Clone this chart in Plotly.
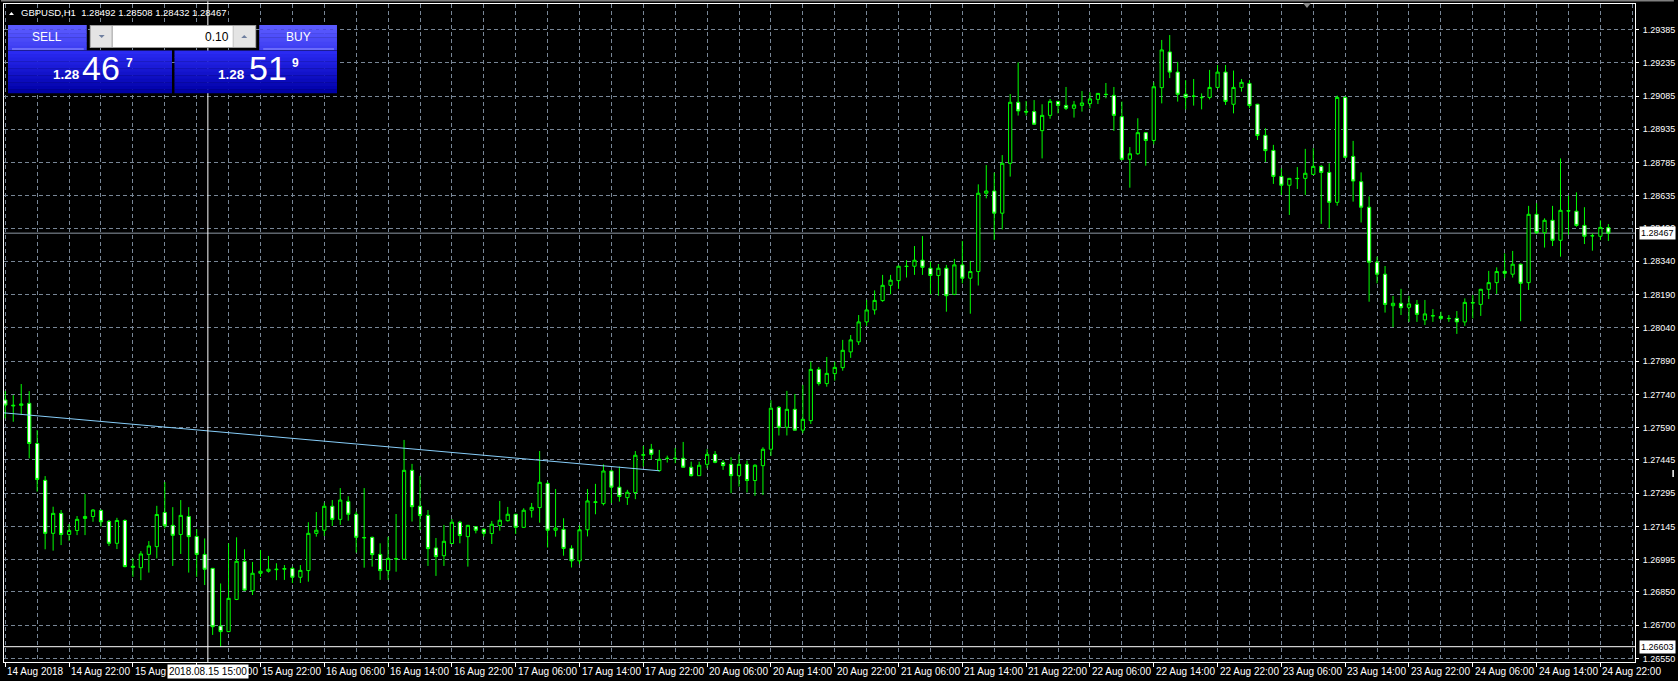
import plotly.graph_objects as go

# ---------------- data ----------------
symbol = "GBPUSD,H1"
bid_price = 1.28467
ask_price = 1.28519
lot_size = "0.10"

opens = [
    1.27715, 1.27688, 1.27691, 1.27700, 1.27519, 1.27353, 1.27114, 1.27204, 1.27109, 1.27127,
    1.27181, 1.27190, 1.27217, 1.27168, 1.27069, 1.27172, 1.26961, 1.26959, 1.27019, 1.27054,
    1.27208, 1.27150, 1.27109, 1.27190, 1.27100, 1.27019, 1.26956, 1.26696, 1.26671, 1.26816,
    1.26988, 1.26855, 1.26934, 1.26943, 1.26950, 1.26952, 1.26956, 1.26916, 1.26946, 1.27114,
    1.27128, 1.27236, 1.27177, 1.27258, 1.27200, 1.27095, 1.27096, 1.27019, 1.26946, 1.26998,
    1.26997, 1.27398, 1.27236, 1.27195, 1.27048, 1.27013, 1.27068, 1.27164, 1.27099, 1.27144,
    1.27132, 1.27113, 1.27149, 1.27171, 1.27200, 1.27141, 1.27218, 1.27230, 1.27339, 1.27128,
    1.27132, 1.27046, 1.26990, 1.27130, 1.27253, 1.27248, 1.27395, 1.27322, 1.27275, 1.27298,
    1.27466, 1.27493, 1.27397, 1.27451, 1.27451, 1.27452, 1.27412, 1.27374, 1.27425, 1.27470,
    1.27434, 1.27425, 1.27374, 1.27425, 1.27352, 1.27419, 1.27493, 1.27682, 1.27592, 1.27673,
    1.27579, 1.27622, 1.27853, 1.27789, 1.27834, 1.27861, 1.27932, 1.27977, 1.28067, 1.28121,
    1.28163, 1.28232, 1.28253, 1.28318, 1.28318, 1.28345, 1.28309, 1.28276, 1.28309, 1.28191,
    1.28324, 1.28264, 1.28294, 1.28647, 1.28657, 1.28557, 1.28782, 1.29057, 1.29016, 1.29015,
    1.28929, 1.28998, 1.29061, 1.29043, 1.29030, 1.29043, 1.29051, 1.29070, 1.29093, 1.29088,
    1.28992, 1.28800, 1.28825, 1.28920, 1.28885, 1.29123, 1.29284, 1.29193, 1.29093, 1.29085,
    1.29079, 1.29079, 1.29124, 1.29193, 1.29048, 1.29124, 1.29142, 1.29048, 1.28908, 1.28840,
    1.28723, 1.28683, 1.28714, 1.28714, 1.28732, 1.28768, 1.28741, 1.28606, 1.29079, 1.28813,
    1.28699, 1.28584, 1.28336, 1.28282, 1.28140, 1.28151, 1.28133, 1.28146, 1.28076, 1.28094,
    1.28092, 1.28083, 1.28083, 1.28067, 1.28152, 1.28146, 1.28214, 1.28244, 1.28295, 1.28282,
    1.28327, 1.28244, 1.28552, 1.28469, 1.28525, 1.28435, 1.28568, 1.28566, 1.28502, 1.28456,
    1.28453, 1.28492,
]
highs = [
    1.27755, 1.27737, 1.27787, 1.27755, 1.27579, 1.27372, 1.27234, 1.27219, 1.27156, 1.27192,
    1.27291, 1.27223, 1.27222, 1.27174, 1.27184, 1.27177, 1.27001, 1.27034, 1.27079, 1.27238,
    1.27345, 1.27232, 1.27264, 1.27232, 1.27133, 1.27091, 1.26958, 1.26888, 1.27069, 1.27096,
    1.27042, 1.26985, 1.27039, 1.27012, 1.26979, 1.26971, 1.26964, 1.26971, 1.27164, 1.27210,
    1.27252, 1.27264, 1.27318, 1.27281, 1.27212, 1.27318, 1.27099, 1.27069, 1.27098, 1.27201,
    1.27535, 1.27427, 1.27373, 1.27219, 1.27093, 1.27152, 1.27179, 1.27170, 1.27152, 1.27147,
    1.27137, 1.27170, 1.27260, 1.27233, 1.27201, 1.27227, 1.27251, 1.27485, 1.27347, 1.27314,
    1.27182, 1.27060, 1.27150, 1.27314, 1.27337, 1.27425, 1.27400, 1.27415, 1.27310, 1.27485,
    1.27508, 1.27517, 1.27490, 1.27464, 1.27499, 1.27526, 1.27437, 1.27437, 1.27493, 1.27485,
    1.27445, 1.27457, 1.27470, 1.27442, 1.27425, 1.27502, 1.27714, 1.27688, 1.27756, 1.27742,
    1.27783, 1.27888, 1.27864, 1.27909, 1.27888, 1.27986, 1.28008, 1.28098, 1.28166, 1.28209,
    1.28279, 1.28279, 1.28321, 1.28345, 1.28409, 1.28454, 1.28339, 1.28328, 1.28324, 1.28351,
    1.28432, 1.28342, 1.28687, 1.28774, 1.28740, 1.28819, 1.29094, 1.29237, 1.29063, 1.29067,
    1.29048, 1.29072, 1.29063, 1.29126, 1.29063, 1.29108, 1.29102, 1.29099, 1.29144, 1.29126,
    1.29060, 1.28855, 1.28985, 1.28922, 1.29147, 1.29338, 1.29360, 1.29239, 1.29157, 1.29162,
    1.29097, 1.29203, 1.29225, 1.29225, 1.29200, 1.29162, 1.29157, 1.29050, 1.28940, 1.28865,
    1.28759, 1.28716, 1.28765, 1.28847, 1.28850, 1.28774, 1.28782, 1.29087, 1.29082, 1.28883,
    1.28741, 1.28633, 1.28361, 1.28319, 1.28184, 1.28216, 1.28184, 1.28166, 1.28166, 1.28125,
    1.28113, 1.28098, 1.28116, 1.28173, 1.28188, 1.28216, 1.28297, 1.28313, 1.28376, 1.28387,
    1.28330, 1.28590, 1.28602, 1.28534, 1.28590, 1.28804, 1.28636, 1.28651, 1.28584, 1.28466,
    1.28525, 1.28508,
]
lows = [
    1.27632, 1.27617, 1.27647, 1.27452, 1.27302, 1.27042, 1.27036, 1.27061, 1.27081, 1.27106,
    1.27106, 1.27166, 1.27144, 1.27057, 1.27043, 1.26961, 1.26918, 1.26903, 1.26937, 1.27001,
    1.27136, 1.26967, 1.27021, 1.26937, 1.26918, 1.26881, 1.26656, 1.26603, 1.26669, 1.26813,
    1.26855, 1.26836, 1.26918, 1.26937, 1.26903, 1.26904, 1.26890, 1.26890, 1.26896, 1.27099,
    1.27102, 1.27147, 1.27152, 1.27171, 1.27027, 1.26959, 1.26964, 1.26904, 1.26904, 1.26941,
    1.26995, 1.27167, 1.27129, 1.26967, 1.26922, 1.26967, 1.27066, 1.27069, 1.26964, 1.27114,
    1.27099, 1.27066, 1.27126, 1.27167, 1.27111, 1.27139, 1.27185, 1.27162, 1.27050, 1.27099,
    1.27013, 1.26960, 1.26975, 1.27100, 1.27200, 1.27240, 1.27250, 1.27257, 1.27242, 1.27268,
    1.27415, 1.27448, 1.27392, 1.27433, 1.27430, 1.27410, 1.27370, 1.27374, 1.27407, 1.27430,
    1.27400, 1.27295, 1.27325, 1.27298, 1.27283, 1.27287, 1.27463, 1.27555, 1.27555, 1.27577,
    1.27565, 1.27607, 1.27780, 1.27775, 1.27802, 1.27847, 1.27905, 1.27963, 1.28049, 1.28100,
    1.28158, 1.28191, 1.28216, 1.28267, 1.28279, 1.28279, 1.28191, 1.28185, 1.28113, 1.28188,
    1.28241, 1.28104, 1.28231, 1.28624, 1.28436, 1.28484, 1.28722, 1.28997, 1.28997, 1.28955,
    1.28804, 1.28983, 1.29007, 1.29022, 1.28988, 1.29015, 1.29030, 1.29049, 1.29075, 1.28928,
    1.28795, 1.28672, 1.28820, 1.28771, 1.28867, 1.29052, 1.29166, 1.29060, 1.29025, 1.29042,
    1.29025, 1.29070, 1.29118, 1.29045, 1.29007, 1.29105, 1.29030, 1.28887, 1.28788, 1.28689,
    1.28639, 1.28549, 1.28666, 1.28639, 1.28730, 1.28509, 1.28489, 1.28591, 1.28805, 1.28609,
    1.28515, 1.28158, 1.28241, 1.28109, 1.28043, 1.28098, 1.28067, 1.28067, 1.28053, 1.28067,
    1.28076, 1.28067, 1.28013, 1.28049, 1.28083, 1.28094, 1.28170, 1.28193, 1.28264, 1.28267,
    1.28070, 1.28211, 1.28463, 1.28402, 1.28409, 1.28361, 1.28459, 1.28496, 1.28418, 1.28388,
    1.28436, 1.28432,
]
closes = [
    1.27692, 1.27691, 1.27697, 1.27519, 1.27357, 1.27114, 1.27204, 1.27109, 1.27127, 1.27177,
    1.27190, 1.27219, 1.27166, 1.27069, 1.27172, 1.26964, 1.26965, 1.27021, 1.27057, 1.27199,
    1.27148, 1.27105, 1.27195, 1.27099, 1.27019, 1.26952, 1.26693, 1.26671, 1.26821, 1.26988,
    1.26858, 1.26934, 1.26943, 1.26952, 1.26952, 1.26955, 1.26916, 1.26947, 1.27114, 1.27128,
    1.27236, 1.27177, 1.27264, 1.27200, 1.27096, 1.27094, 1.27018, 1.26946, 1.27001, 1.27000,
    1.27398, 1.27234, 1.27194, 1.27045, 1.27009, 1.27078, 1.27164, 1.27104, 1.27150, 1.27128,
    1.27114, 1.27155, 1.27173, 1.27200, 1.27141, 1.27218, 1.27231, 1.27344, 1.27128, 1.27138,
    1.27046, 1.26990, 1.27130, 1.27260, 1.27256, 1.27395, 1.27322, 1.27280, 1.27299, 1.27466,
    1.27468, 1.27470, 1.27448, 1.27452, 1.27452, 1.27412, 1.27374, 1.27421, 1.27470, 1.27434,
    1.27419, 1.27374, 1.27425, 1.27352, 1.27421, 1.27493, 1.27678, 1.27592, 1.27673, 1.27579,
    1.27628, 1.27853, 1.27789, 1.27835, 1.27862, 1.27939, 1.27986, 1.28067, 1.28121, 1.28164,
    1.28232, 1.28255, 1.28318, 1.28317, 1.28345, 1.28313, 1.28276, 1.28309, 1.28185, 1.28324,
    1.28264, 1.28294, 1.28647, 1.28657, 1.28557, 1.28782, 1.29057, 1.29018, 1.29013, 1.28958,
    1.28998, 1.29061, 1.29043, 1.29030, 1.29045, 1.29054, 1.29072, 1.29097, 1.29092, 1.28998,
    1.28800, 1.28825, 1.28920, 1.28885, 1.29127, 1.29293, 1.29193, 1.29093, 1.29079, 1.29084,
    1.29078, 1.29124, 1.29193, 1.29061, 1.29124, 1.29147, 1.29042, 1.28907, 1.28839, 1.28723,
    1.28683, 1.28714, 1.28713, 1.28737, 1.28768, 1.28741, 1.28606, 1.29079, 1.28809, 1.28702,
    1.28584, 1.28336, 1.28282, 1.28146, 1.28151, 1.28131, 1.28148, 1.28101, 1.28103, 1.28095,
    1.28083, 1.28082, 1.28067, 1.28155, 1.28154, 1.28214, 1.28244, 1.28294, 1.28286, 1.28327,
    1.28241, 1.28552, 1.28469, 1.28525, 1.28435, 1.28570, 1.28567, 1.28502, 1.28453, 1.28455,
    1.28493, 1.28467,
]

x_labels = [
    "14 Aug 2018", "14 Aug 22:00", "15 Aug 06:00", "15 Aug 14:00", "15 Aug 22:00",
    "16 Aug 06:00", "16 Aug 14:00", "16 Aug 22:00", "17 Aug 06:00", "17 Aug 14:00",
    "17 Aug 22:00", "20 Aug 06:00", "20 Aug 14:00", "20 Aug 22:00", "21 Aug 06:00",
    "21 Aug 14:00", "21 Aug 22:00", "22 Aug 06:00", "22 Aug 14:00", "22 Aug 22:00",
    "23 Aug 06:00", "23 Aug 14:00", "23 Aug 22:00", "24 Aug 06:00", "24 Aug 14:00",
    "24 Aug 22:00",
]
price_labels = [
    "1.26550", "1.26700", "1.26850", "1.26995", "1.27145", "1.27295", "1.27445",
    "1.27590", "1.27740", "1.27890", "1.28040", "1.28190", "1.28340", "1.28490",
    "1.28635", "1.28785", "1.28935", "1.29085", "1.29235", "1.29385",
]
trend_bars = [-0.16, 82.0]
trend_prices = [1.27657, 1.27396]
cross_bar = 25.4
cross_price = 1.26603
cross_label = "2018.08.15 15:00"

# ---------------- layout helpers ----------------
W, H = 1678, 681
PL, PR, PT, PB = 3, 1639, 4, 662
FONT = "Liberation Sans, Arial, sans-serif"
GRID = "#788696"


def px(x):
    return (x - PL) / (PR - PL)


def py(y):
    return (PB - y) / (PB - PT)


def hexmix(c1, c2, t):
    a = [int(c1[i:i + 2], 16) for i in (1, 3, 5)]
    b = [int(c2[i:i + 2], 16) for i in (1, 3, 5)]
    return "#" + "".join("%02x" % round(a[k] + (b[k] - a[k]) * t) for k in range(3))


shapes = []
annos = []


def rect(x0, y0, x1, y1, fill, line=None, layer="above"):
    shapes.append(dict(type="rect", xref="paper", yref="paper", x0=px(x0), x1=px(x1),
                       y0=py(y1), y1=py(y0), fillcolor=fill, layer=layer,
                       line=dict(width=0) if line is None else dict(color=line, width=1)))


def grad(x0, y0, x1, y1, ctop, cbot, n=10):
    h = (y1 - y0) / n
    for k in range(n):
        rect(x0, y0 + k * h, x1, y0 + (k + 1) * h + 0.3, hexmix(ctop, cbot, k / (n - 1)))


def path(pts, fill):
    d = "M " + " L ".join("%f,%f" % (px(a), py(b)) for a, b in pts) + " Z"
    shapes.append(dict(type="path", xref="paper", yref="paper", path=d,
                       fillcolor=fill, line=dict(width=0), layer="above"))


def text(x, y, s, size, color="#FFFFFF", xanchor="center", bold=False):
    annos.append(dict(x=px(x), y=py(y), xref="paper", yref="paper", text=("<b>%s</b>" % s) if bold else s,
                      showarrow=False, xanchor=xanchor, yanchor="middle",
                      font=dict(family=FONT, size=size, color=color), borderpad=0))


bars = list(range(len(opens)))
label_bars = [8 * k for k in range(len(x_labels))]
minor_bars = [b + 4 for b in label_bars]
price_vals = [float(s) for s in price_labels]

fig = go.Figure()
fig.add_trace(go.Candlestick(
    x=bars, open=opens, high=highs, low=lows, close=closes,
    increasing=dict(line=dict(color="#00FF00", width=1), fillcolor="#000000"),
    decreasing=dict(line=dict(color="#00FF00", width=1), fillcolor="#FFFFFF"),
    whiskerwidth=0, hoverinfo="skip", showlegend=False))
fig.add_trace(go.Scatter(x=trend_bars, y=trend_prices, mode="lines",
                         line=dict(color="#87CEFA", width=1), hoverinfo="skip", showlegend=False))

# bid line
shapes.append(dict(type="line", xref="paper", x0=0, x1=1, yref="y", y0=bid_price, y1=bid_price,
                   line=dict(color="#8e98a4", width=1), layer="between"))
# crosshair
shapes.append(dict(type="line", xref="x", x0=cross_bar, x1=cross_bar, yref="paper", y0=0, y1=py(0),
                   line=dict(color="#FFFFFF", width=1), layer="above"))
shapes.append(dict(type="line", xref="paper", x0=0, x1=1, yref="y", y0=cross_price, y1=cross_price,
                   line=dict(color="#FFFFFF", width=1), layer="above"))

# window top border, shift marker, right edge marker
rect(0, 0, W, 1.5, "#7f7f7f")
path([(1306, 3), (1314, 3), (1310, 8)], "#8a8a8a")
rect(1676.5, 470, 1678, 477, "#FFFFFF")

# header
path([(8, 15), (13, 15), (10.5, 12)], "#FFFFFF")
hdr = "%s\u00a0\u00a0%.5f %.5f %.5f %.5f" % (symbol, opens[-1], highs[-1], lows[-1], closes[-1])
text(19, 12.5, hdr, 9.5, xanchor="left")

# one-click trading panel
grad(7, 25, 86, 50, "#5a5aff", "#3f3ff2", 6)
grad(259, 25, 337, 50, "#5a5aff", "#3f3ff2", 6)
rect(11, 48.5, 83, 49.5, "#9a9aff")
rect(263, 48.5, 334, 49.5, "#9a9aff")
grad(7, 50.5, 171.5, 93, "#2a2af2", "#0000a8", 12)
grad(174, 50.5, 337, 93, "#2a2af2", "#0000a8", 12)
rect(89, 25, 256, 48, "#9c9c9c")
rect(90, 26, 111, 47, "#e4e4e4")
rect(233, 26, 255, 47, "#e4e4e4")
rect(112, 26, 232.5, 47, "#FFFFFF")
path([(98, 35), (104, 35), (101, 38)], "#6f7f9f")
path([(241, 38), (247, 38), (244, 35)], "#6f7f9f")
text(46.5, 36.5, "SELL", 12)
text(298, 36.5, "BUY", 12)
text(230, 36.5, lot_size, 12, color="#000000", xanchor="right")


def price_parts(p):
    s = "%.5f" % p
    return s[:4], s[4:6], s[6]


for (big_x, small_x, sup_x), p in (((100.5, 65.5, 128.5), bid_price), ((268, 231.5, 295), ask_price)):
    a, b, c = price_parts(p)
    text(small_x, 75, a, 13.5, bold=True)
    text(big_x, 67.5, b, 34)
    text(sup_x, 62.5, c, 12, bold=True)

# x-axis labels (left-aligned at the tick, as in MT4)
for b, lab in zip(label_bars, x_labels):
    annos.append(dict(x=b, xref="x", xshift=1, y=py(671), yref="paper", text=lab, showarrow=False,
                      xanchor="left", yanchor="middle", font=dict(family=FONT, size=10, color="#FFFFFF"),
                      borderpad=0))

# price boxes on the right axis
for p, s in ((bid_price, "%.5f" % bid_price), (cross_price, "%.5f" % cross_price)):
    annos.append(dict(x=px(1643), xref="paper", y=p, yref="y", text=s, showarrow=False,
                      xanchor="left", yanchor="middle", bgcolor="#FFFFFF", borderpad=1,
                      font=dict(family=FONT, size=9, color="#000000")))
# crosshair time box
annos.append(dict(x=cross_bar, xref="x", y=py(671), yref="paper", text=cross_label, showarrow=False,
                  xanchor="center", yanchor="middle", bgcolor="#FFFFFF", borderpad=1,
                  font=dict(family=FONT, size=10, color="#000000")))

fig.update_layout(
    width=W, height=H, autosize=False,
    margin=dict(l=PL, r=W - PR, t=PT, b=H - PB, pad=0),
    paper_bgcolor="#000000", plot_bgcolor="#000000",
    showlegend=False, boxgap=0.42, dragmode=False,
    shapes=shapes, annotations=annos,
    xaxis=dict(range=[-0.16, 204.34], showline=True, linecolor="#FFFFFF", linewidth=1, mirror=True,
               tickvals=label_bars, ticks="outside", ticklen=4, tickcolor="#FFFFFF", tickwidth=1,
               showticklabels=False, showgrid=True, gridcolor=GRID, griddash="4px,3px", gridwidth=1,
               zeroline=False, rangeslider=dict(visible=False), fixedrange=True,
               minor=dict(tickvals=minor_bars, showgrid=True, gridcolor=GRID, griddash="4px,3px",
                          gridwidth=1, ticks="")),
    yaxis=dict(range=[1.26534, 1.29500], side="right", showline=True, linecolor="#FFFFFF", linewidth=1,
               mirror=True, tickvals=price_vals, ticktext=price_labels, ticks="outside", ticklen=3,
               tickcolor="#FFFFFF", tickfont=dict(family=FONT, size=9, color="#FFFFFF"),
               ticklabelstandoff=2,
               showgrid=True, gridcolor=GRID, griddash="4px,3px", gridwidth=1, zeroline=False,
               fixedrange=True),
)

fig.write_html("out.html", include_plotlyjs=True, full_html=True,
               config=dict(displayModeBar=False, staticPlot=True),
               post_script="document.body.style.margin='0';document.body.style.background='#000';")
